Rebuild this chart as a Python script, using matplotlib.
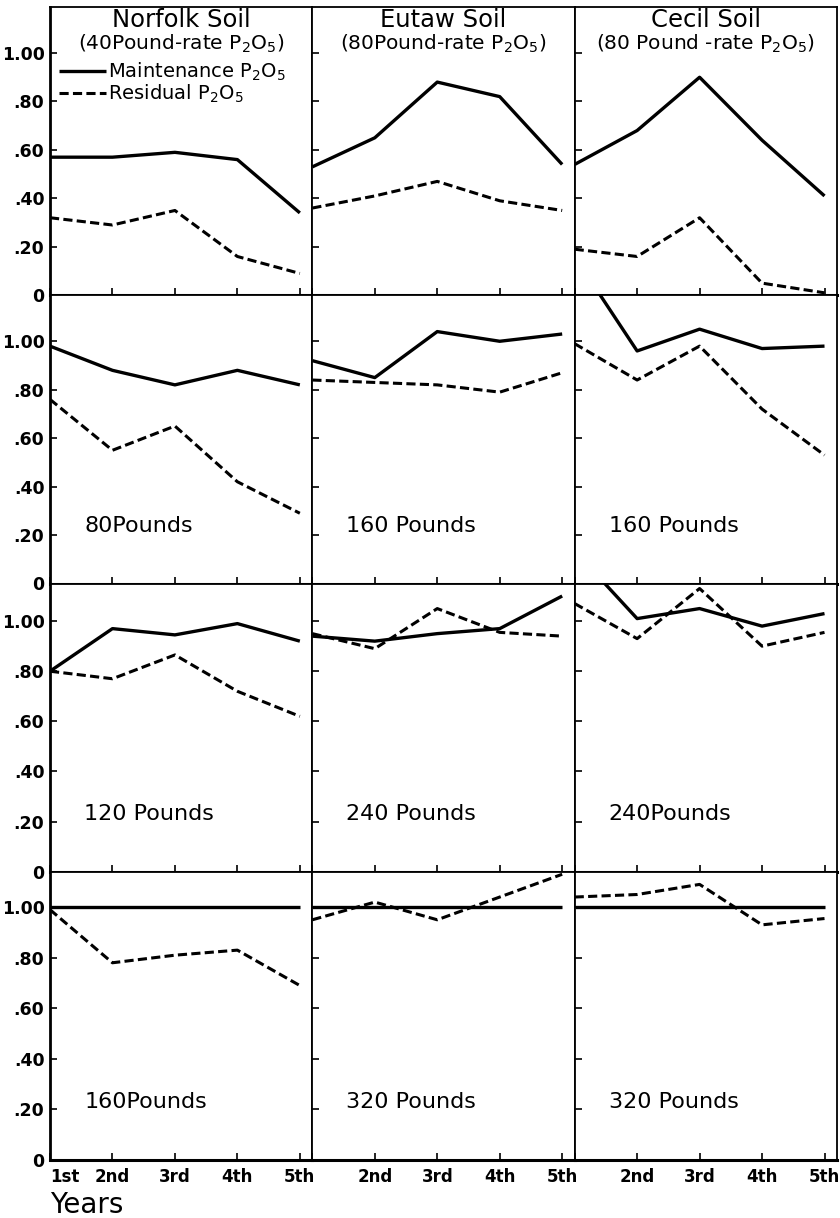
import matplotlib
matplotlib.use("Agg")
from matplotlib import pyplot as plt

# x axis: years of cropping
years = [1, 2, 3, 4, 5]
year_labels = ["1st", "2nd", "3rd", "4th", "5th"]

soils = ["Norfolk Soil", "Eutaw Soil", "Cecil Soil"]
rates = ["(40Pound-rate P$_2$O$_5$)", "(80Pound-rate P$_2$O$_5$)",
         "(80 Pound -rate P$_2$O$_5$)"]
row_labels = [[None, None, None],
              ["80Pounds", "160 Pounds", "160 Pounds"],
              ["120 Pounds", "240 Pounds", "240Pounds"],
              ["160Pounds", "320 Pounds", "320 Pounds"]]

# maintenance P2O5, per row: Norfolk, Eutaw, Cecil
maint_row1 = [[0.57, 0.57, 0.59, 0.56, 0.34],
              [0.53, 0.65, 0.88, 0.82, 0.54],
              [0.54, 0.68, 0.90, 0.64, 0.41]]
maint_row2 = [[0.98, 0.88, 0.82, 0.88, 0.82],
              [0.92, 0.85, 1.04, 1.00, 1.03],
              [1.35, 0.96, 1.05, 0.97, 0.98]]
maint_row3 = [[0.80, 0.97, 0.945, 0.99, 0.92],
              [0.94, 0.92, 0.95, 0.97, 1.10],
              [1.28, 1.01, 1.05, 0.98, 1.03]]
maint_row4 = [[1.00, 1.00, 1.00, 1.00, 1.00],
              [1.00, 1.00, 1.00, 1.00, 1.00],
              [1.00, 1.00, 1.00, 1.00, 1.00]]

# residual P2O5
resid_row1 = [[0.32, 0.29, 0.35, 0.16, 0.09],
              [0.36, 0.41, 0.47, 0.39, 0.35],
              [0.19, 0.16, 0.32, 0.05, 0.01]]
resid_row2 = [[0.76, 0.55, 0.65, 0.42, 0.29],
              [0.84, 0.83, 0.82, 0.79, 0.87],
              [0.99, 0.84, 0.98, 0.72, 0.53]]
resid_row3 = [[0.80, 0.77, 0.865, 0.72, 0.62],
              [0.95, 0.89, 1.05, 0.955, 0.94],
              [1.07, 0.93, 1.13, 0.90, 0.955]]
resid_row4 = [[0.99, 0.78, 0.81, 0.83, 0.69],
              [0.95, 1.02, 0.95, 1.04, 1.13],
              [1.04, 1.05, 1.09, 0.93, 0.955]]

maint = [maint_row1, maint_row2, maint_row3, maint_row4]
resid = [resid_row1, resid_row2, resid_row3, resid_row4]

y_ticks = [0, 0.2, 0.4, 0.6, 0.8, 1.0]
y_tick_labels = ["0", ".20", ".40", ".60", ".80", "1.00"]
row_tops = [1.19, 1.19, 1.15, 1.14]

W, H = 840, 1218
fig, axes = plt.subplots(4, 3, figsize=(W / 100, H / 100), dpi=100)
fig.subplots_adjust(left=50 / W, right=837 / W, top=1 - 7 / H,
                    bottom=1 - 1160 / H, wspace=0, hspace=0)

for r in range(4):
    for c in range(3):
        ax = axes[r, c]
        ax.plot(years, maint[r][c], color="black", lw=2.4,
                solid_capstyle="butt", label="Maintenance P$_2$O$_5$")
        ax.plot(years, resid[r][c], color="black", lw=2.2,
                dashes=(3, 1.4), label="Residual P$_2$O$_5$")
        ax.set_xlim(1, 5.2)
        ax.set_ylim(0, row_tops[r])
        ax.set_xticks(years)
        ax.set_yticks(y_ticks)
        ax.tick_params(direction="in", length=5, width=1.2, colors="black")
        for s in ax.spines.values():
            s.set_linewidth(1.3)
        ax.spines["bottom"].set_linewidth(2.2)
        if c == 0:
            ax.spines["left"].set_linewidth(2.0)
            ax.set_yticklabels(y_tick_labels, fontsize=12.5, fontweight="bold")
            ax.tick_params(axis="y", pad=4)
        else:
            ax.set_yticklabels([])
        if r == 3:
            labs = year_labels if c == 0 else [""] + year_labels[1:]
            ax.set_xticklabels(labs, fontsize=12, fontweight="bold")
            ax.tick_params(axis="x", pad=6)
            if c == 0:
                ax.get_xticklabels()[0].set_ha("left")
        else:
            ax.set_xticklabels([])
        if r == 0:
            ax.text(0.5, 0.955, soils[c], transform=ax.transAxes,
                    ha="center", va="center", fontsize=17.5)
            ax.text(0.5, 0.872, rates[c], transform=ax.transAxes,
                    ha="center", va="center", fontsize=14.5)
        if row_labels[r][c]:
            ax.text(0.13, 0.2, row_labels[r][c], transform=ax.transAxes,
                    ha="left", va="center", fontsize=16)

axes[0, 0].legend(loc="upper left", bbox_to_anchor=(0.035, 0.815),
                  frameon=False, handlelength=2.4, handletextpad=0.1,
                  labelspacing=0.0, borderpad=0, borderaxespad=0,
                  fontsize=14)

fig.text(50 / W, 1 - 1205 / H, "Years", ha="left", va="center", fontsize=20)

fig.savefig("out.png", dpi=100)
